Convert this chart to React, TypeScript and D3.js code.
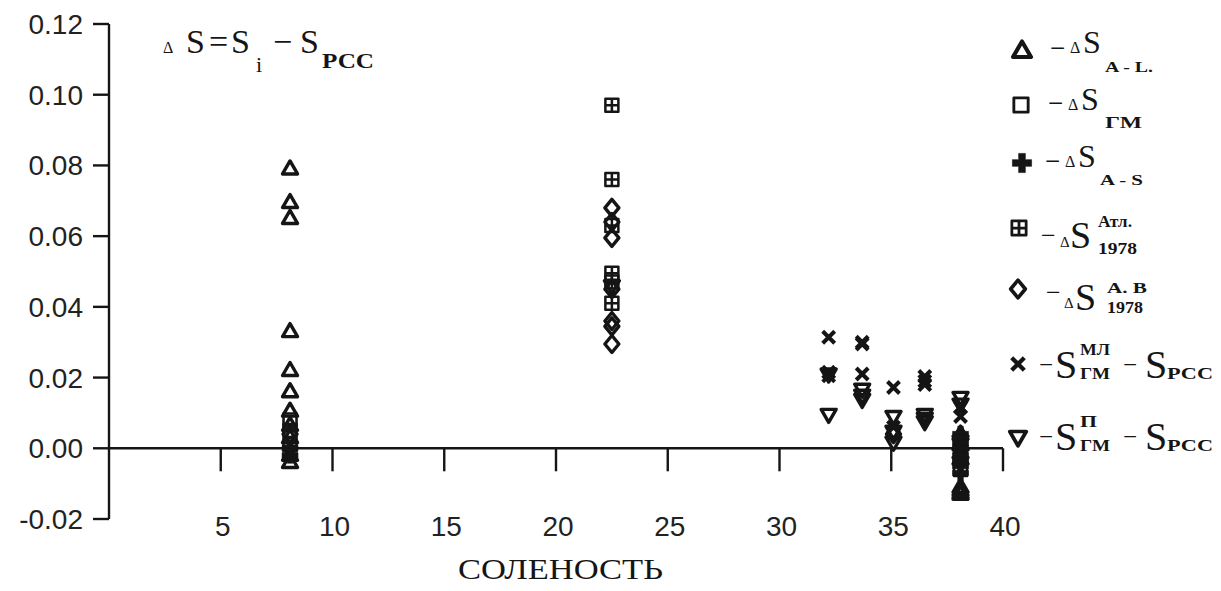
import React, { useRef, useEffect } from 'react';
import * as d3 from 'd3';

const W = 1221;
const H = 591;

// [salinity, ΔS] pairs
const dsAL = [[8.1, 0.079], [8.1, 0.0695], [8.1, 0.065], [8.1, 0.033], [8.1, 0.022], [8.1, 0.016], [8.1, 0.0105], [8.1, 0.0065], [8.1, 0.003], [8.1, -0.002], [8.1, -0.004], [38.1, 0.004], [38.1, 0.001], [38.1, -0.003], [38.1, -0.011], [38.1, -0.0118], [38.1, -0.0125], [38.1, -0.013]];
const dsGM = [[8.1, 0.008], [8.1, 0.005], [8.1, 0.001], [38.1, 0.001], [38.1, -0.003], [38.1, -0.006]];
const dsAS = [[8.1, 0.0], [8.1, -0.002], [38.1, 0.004], [38.1, 0.003], [38.1, 0.0015], [38.1, 0.0], [38.1, -0.002], [38.1, -0.0035], [38.1, -0.005], [38.1, -0.007]];
const dsAtl = [[22.5, 0.097], [22.5, 0.076], [22.5, 0.063], [22.5, 0.0495], [22.5, 0.047], [22.5, 0.041]];
const dsAB = [[22.5, 0.068], [22.5, 0.064], [22.5, 0.0595], [22.5, 0.045], [22.5, 0.036], [22.5, 0.0345], [22.5, 0.0295], [8.1, 0.004], [35.1, 0.004]];
const dsML = [[8.1, 0.001], [8.1, -0.001], [32.2, 0.0314], [32.2, 0.0215], [32.2, 0.0205], [33.7, 0.030], [33.7, 0.0295], [33.7, 0.021], [35.1, 0.0172], [35.1, 0.006], [36.5, 0.0203], [36.5, 0.019], [36.5, 0.018], [38.1, 0.0116], [38.1, 0.009]];
const dsP = [[22.5, 0.046], [32.2, 0.0096], [32.2, 0.021], [33.7, 0.0167], [33.7, 0.015], [33.7, 0.0138], [35.1, 0.009], [35.1, 0.0048], [35.1, 0.0017], [36.5, 0.0096], [36.5, 0.0085], [36.5, 0.0075], [38.1, 0.0144], [38.1, 0.0125], [38.1, 0.002], [38.1, -0.004]];

const xTicks = [5, 10, 15, 20, 25, 30, 35, 40];
const yTicks = [-0.02, 0, 0.02, 0.04, 0.06, 0.08, 0.1, 0.12];
const xTitle = 'СОЛЕНОСТЬ';

const INK = '#151515';
const SERIF = '"Liberation Serif", "Times New Roman", serif';
const SANS = '"Liberation Sans", Arial, sans-serif';

// marker glyphs, centred on 0,0
const glyphs = {
    triUp: { d: 'M0,-8 L7.5,5 L-7.5,5 Z', fill: 'none', sw: 3.4 },
    triDown: { d: 'M0,8 L7.5,-5 L-7.5,-5 Z', fill: 'none', sw: 3.4 },
    square: { d: 'M-6.5,-6.5 H6.5 V6.5 H-6.5 Z', fill: 'none', sw: 2.6 },
    squareCross: { d: 'M-6.5,-6.5 H6.5 V6.5 H-6.5 Z M0,-6.5 V6.5 M-6.5,0 H6.5', fill: 'none', sw: 2.5 },
    diamond: { d: 'M0,-8.5 L7,0 L0,8.5 L-7,0 Z', fill: 'none', sw: 3.4 },
    plus: { d: 'M-2.8,-8 H2.8 V-2.8 H8 V2.8 H2.8 V8 H-2.8 V2.8 H-8 V-2.8 H-2.8 Z', fill: INK, sw: 0.5 },
    cross: { d: 'M-6,-6 L6,6 M6,-6 L-6,6', fill: 'none', sw: 4 },
};

const series = [
    { data: dsAL, glyph: 'triUp' },
    { data: dsGM, glyph: 'square' },
    { data: dsAS, glyph: 'plus' },
    { data: dsAtl, glyph: 'squareCross' },
    { data: dsAB, glyph: 'diamond' },
    { data: dsML, glyph: 'cross' },
    { data: dsP, glyph: 'triDown' },
];

// legend rows: marker position + hand-placed formula pieces [text, x, baseline, size, width?]
const legend = [
    { glyph: 'triUp', mx: 1022, my: 51, k: 1.2, parts: [
        ['−', 1050, 57, 27], ['Δ', 1070, 53, 16], ['S', 1083, 53, 32], ['A - L.', 1105, 72, 15, 48]] },
    { glyph: 'square', mx: 1021, my: 105, k: 1.1, parts: [
        ['−', 1048, 112, 27], ['Δ', 1068, 110, 16], ['S', 1081, 110, 32], ['ГМ', 1105, 128, 16, 37]] },
    { glyph: 'plus', mx: 1022, my: 163, k: 1.2, parts: [
        ['−', 1045, 170, 27], ['Δ', 1065, 167, 16], ['S', 1078, 167, 32], ['A - S', 1100, 185, 15, 43]] },
    { glyph: 'squareCross', mx: 1019, my: 228, k: 1.1, parts: [
        ['−', 1041, 244, 26], ['Δ', 1060, 247, 15], ['S', 1070, 248, 38], ['Атл.', 1098, 227, 16, 34], ['1978', 1098, 254, 17, 39]] },
    { glyph: 'diamond', mx: 1018, my: 289, k: 1.05, parts: [
        ['−', 1046, 301, 26], ['Δ', 1064, 308, 15], ['S', 1075, 310, 38], ['A. B', 1107, 293, 15, 40], ['1978', 1107, 313, 17, 36]] },
    { glyph: 'cross', mx: 1018, my: 364, k: 1.05, parts: [
        ['−', 1039, 373, 25], ['S', 1055, 378, 40], ['МЛ', 1080, 355, 17, 30], ['ГМ', 1080, 379, 17, 30], ['−', 1123, 373, 25], ['S', 1145, 378, 40], ['РСС', 1167, 379, 17, 46]] },
    { glyph: 'triDown', mx: 1018, my: 437, k: 1.1, parts: [
        ['−', 1039, 445, 25], ['S', 1055, 450, 40], ['П', 1080, 427, 17, 17], ['ГМ', 1080, 451, 17, 30], ['−', 1123, 445, 25], ['S', 1145, 450, 40], ['РСС', 1167, 451, 17, 46]] },
];

// ΔS = S_i − S_РСС
const formula = [
    ['Δ', 163, 53, 16], ['S', 186, 53, 34], ['=', 209, 53, 34], ['S', 231, 53, 34],
    ['i', 256, 72, 22], ['−', 273, 53, 34], ['S', 300, 53, 34], ['РСС', 322, 68, 22, 52],
];

const ScatterChart = () => {
    const svgRef = useRef(null);

    useEffect(() => {
        const svg = d3.select(svgRef.current);
        svg.selectAll('*').remove();

        const x = d3.scaleLinear().domain([0, 40]).range([109, 1003]);
        const y = d3.scaleLinear().domain([-0.02, 0.12]).range([519, 24]);

        const axes = svg.append('g').attr('stroke', INK).attr('stroke-width', 2.4).attr('fill', 'none');
        // y axis with left ticks
        axes.append('line').attr('x1', x(0)).attr('x2', x(0)).attr('y1', y(0.12)).attr('y2', y(-0.02));
        axes.selectAll('.yt').data(yTicks).enter().append('line')
            .attr('x1', x(0) - 16).attr('x2', x(0)).attr('y1', d => y(d)).attr('y2', d => y(d));
        // x axis drawn along zero, ticks hanging down
        axes.append('line').attr('x1', x(0)).attr('x2', x(40)).attr('y1', y(0)).attr('y2', y(0));
        axes.selectAll('.xt').data(xTicks).enter().append('line')
            .attr('x1', d => x(d)).attr('x2', d => x(d)).attr('y1', y(0)).attr('y2', y(0) + 23);

        svg.append('g').selectAll('text').data(yTicks).enter().append('text')
            .attr('x', 83).attr('y', d => y(d) + 10)
            .attr('text-anchor', 'end')
            .style('font-family', SANS).style('font-size', '28px').attr('fill', '#222')
            .text(d => (d < 0 ? '-' : '') + Math.abs(d).toFixed(2));

        svg.append('g').selectAll('text').data(xTicks).enter().append('text')
            .attr('x', d => x(d) + 2).attr('y', 536)
            .attr('text-anchor', 'middle')
            .style('font-family', SANS).style('font-size', '28px').attr('fill', '#222')
            .text(d => d);

        svg.append('text')
            .attr('x', 458).attr('y', 579)
            .attr('textLength', 205).attr('lengthAdjust', 'spacingAndGlyphs')
            .style('font-family', SERIF).style('font-size', '30px').attr('fill', INK)
            .text(xTitle);

        // data markers
        series.forEach(s => {
            const g = glyphs[s.glyph];
            svg.append('g').selectAll('path').data(s.data).enter().append('path')
                .attr('transform', d => `translate(${x(d[0])},${y(d[1])})`)
                .attr('d', g.d)
                .attr('fill', g.fill)
                .attr('stroke', INK)
                .attr('stroke-width', g.sw)
                .attr('stroke-linejoin', 'round');
        });

        const drawParts = (parent, parts) => {
            parts.forEach(([t, px, py, size, len]) => {
                const el = parent.append('text')
                    .attr('x', px).attr('y', py)
                    .style('font-family', SERIF).style('font-size', size + 'px')
                    .attr('fill', INK)
                    .text(t);
                if (len) el.attr('textLength', len).attr('lengthAdjust', 'spacingAndGlyphs').style('font-weight', 'bold');
            });
        };

        drawParts(svg.append('g'), formula);

        // legend
        legend.forEach(row => {
            const g = glyphs[row.glyph];
            const lg = svg.append('g');
            lg.append('path')
                .attr('transform', `translate(${row.mx},${row.my}) scale(${row.k})`)
                .attr('d', g.d)
                .attr('fill', g.fill)
                .attr('stroke', INK)
                .attr('stroke-width', g.sw)
                .attr('stroke-linejoin', 'round');
            drawParts(lg, row.parts);
        });
    }, []);

    return <svg ref={svgRef} width={W} height={H} style={{ position: 'absolute', left: 0, top: 0, background: '#fff' }}></svg>;
};

export default function App() {
    return <ScatterChart />;
}
